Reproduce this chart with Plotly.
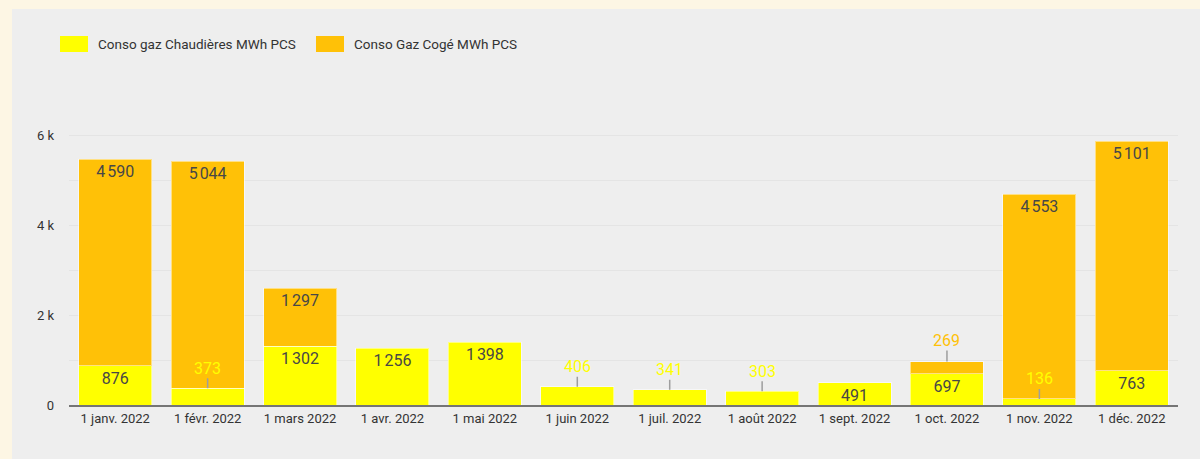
"""
Consommation de gaz mensuelle 2022 : chaudières et cogénération (barres empilées)
"""

import plotly.graph_objects as go

# Données
months = ["1 janv. 2022", "1 févr. 2022", "1 mars 2022", "1 avr. 2022", "1 mai 2022",
          "1 juin 2022", "1 juil. 2022", "1 août 2022", "1 sept. 2022", "1 oct. 2022",
          "1 nov. 2022", "1 déc. 2022"]
chaudieres = [876, 373, 1302, 1256, 1398, 406, 341, 303, 491, 697, 136, 763]
coge = [4590, 5044, 1297, None, None, None, None, None, None, 269, 4553, 5101]

y_tickvals = [0, 1000, 2000, 3000, 4000, 5000, 6000, 7000]
y_ticktext = ["0", "", "2 k", "", "4 k", "", "6 k", ""]

name_chaud = "Conso gaz Chaudières MWh PCS"
name_coge = "Conso Gaz Cogé MWh PCS"

YELLOW = "#ffff00"
ORANGE = "#ffc107"
PANEL = "#eeeeee"
CREAM = "#fdf6e4"
FONT = "Roboto"
LABEL_SIZE = 16

W, H = 1200, 459
M = dict(l=69, r=22, t=90, b=54)
PW = W - M["l"] - M["r"]
PH = H - M["t"] - M["b"]

# seuil sous lequel l'étiquette sort de la barre
INSIDE_MIN = 450


def fmt(v):
    return f"{v:,}".replace(",", "\u202f")


def px_x(px):
    return (px - M["l"]) / PW


def px_y(py):
    return (H - M["b"] - py) / PH


fig = go.Figure()

fig.add_trace(go.Bar(
    x=months, y=chaudieres, name=name_chaud,
    marker=dict(color=YELLOW, line=dict(color="rgba(255,255,255,0.5)", width=1)),
    text=[fmt(v) if v >= INSIDE_MIN else "" for v in chaudieres],
    textposition="inside", insidetextanchor="end",
    textfont=dict(color="#474747", size=LABEL_SIZE, family=FONT),
))
fig.add_trace(go.Bar(
    x=months, y=coge, name=name_coge,
    marker=dict(color=ORANGE, line=dict(color="rgba(255,255,255,0.5)", width=1)),
    text=[fmt(v) if v is not None and v >= INSIDE_MIN else "" for v in coge],
    textposition="inside", insidetextanchor="end",
    textfont=dict(color="#474747", size=LABEL_SIZE, family=FONT),
))

# étiquettes extérieures avec trait de rappel
for m, c, g in zip(months, chaudieres, coge):
    if c < INSIDE_MIN:
        fig.add_annotation(x=m, y=c, text=fmt(c), showarrow=True, arrowhead=0,
                           arrowwidth=1.5, arrowcolor="#9e9e9e", ax=0, ay=-20,
                           borderpad=0,
                           font=dict(color=YELLOW, size=LABEL_SIZE, family=FONT))
    if g is not None and g < INSIDE_MIN:
        fig.add_annotation(x=m, y=c + g, text=fmt(g), showarrow=True, arrowhead=0,
                           arrowwidth=1.5, arrowcolor="#9e9e9e", ax=0, ay=-21,
                           borderpad=0,
                           font=dict(color=ORANGE, size=LABEL_SIZE, family=FONT))

# légende dessinée à la main (carrés larges comme dans l'original)
for x0, color, label in [(60, YELLOW, name_chaud), (316, ORANGE, name_coge)]:
    fig.add_shape(type="rect", xref="paper", yref="paper",
                  x0=px_x(x0), x1=px_x(x0 + 28), y0=px_y(52), y1=px_y(36),
                  fillcolor=color, line=dict(width=0))
    fig.add_annotation(xref="paper", yref="paper", x=px_x(x0 + 36), y=px_y(44),
                       xanchor="left", yanchor="middle", showarrow=False, text=label,
                       font=dict(color="#333333", size=13.5, family=FONT))

# bandes crème autour du panneau
fig.add_shape(type="rect", xref="paper", yref="paper", layer="above",
              x0=px_x(0), x1=px_x(12), y0=px_y(H), y1=px_y(0),
              fillcolor=CREAM, line=dict(width=0))
fig.add_shape(type="rect", xref="paper", yref="paper", layer="above",
              x0=px_x(0), x1=px_x(W), y0=px_y(9), y1=px_y(0),
              fillcolor=CREAM, line=dict(width=0))

fig.update_layout(
    barmode="stack",
    bargap=0.21,
    width=W, height=H,
    margin=M,
    showlegend=False,
    uniformtext=dict(minsize=LABEL_SIZE, mode="show"),
    paper_bgcolor=PANEL,
    plot_bgcolor=PANEL,
    font=dict(family=FONT, size=13, color="#333333"),
    xaxis=dict(showline=True, linecolor="#757575", linewidth=2,
               ticks="", tickfont=dict(size=13, color="#333333")),
    yaxis=dict(range=[0, 7000], tickvals=y_tickvals, ticktext=y_ticktext,
               showgrid=True, gridcolor="#e4e4e4", gridwidth=1, zeroline=False,
               tickfont=dict(size=13, color="#333333"), ticklabelstandoff=14),
)

# page sans marge pour que la figure commence au coin
fig.write_html("out.html", config={"displayModeBar": False},
               post_script="document.body.style.margin='0';")
